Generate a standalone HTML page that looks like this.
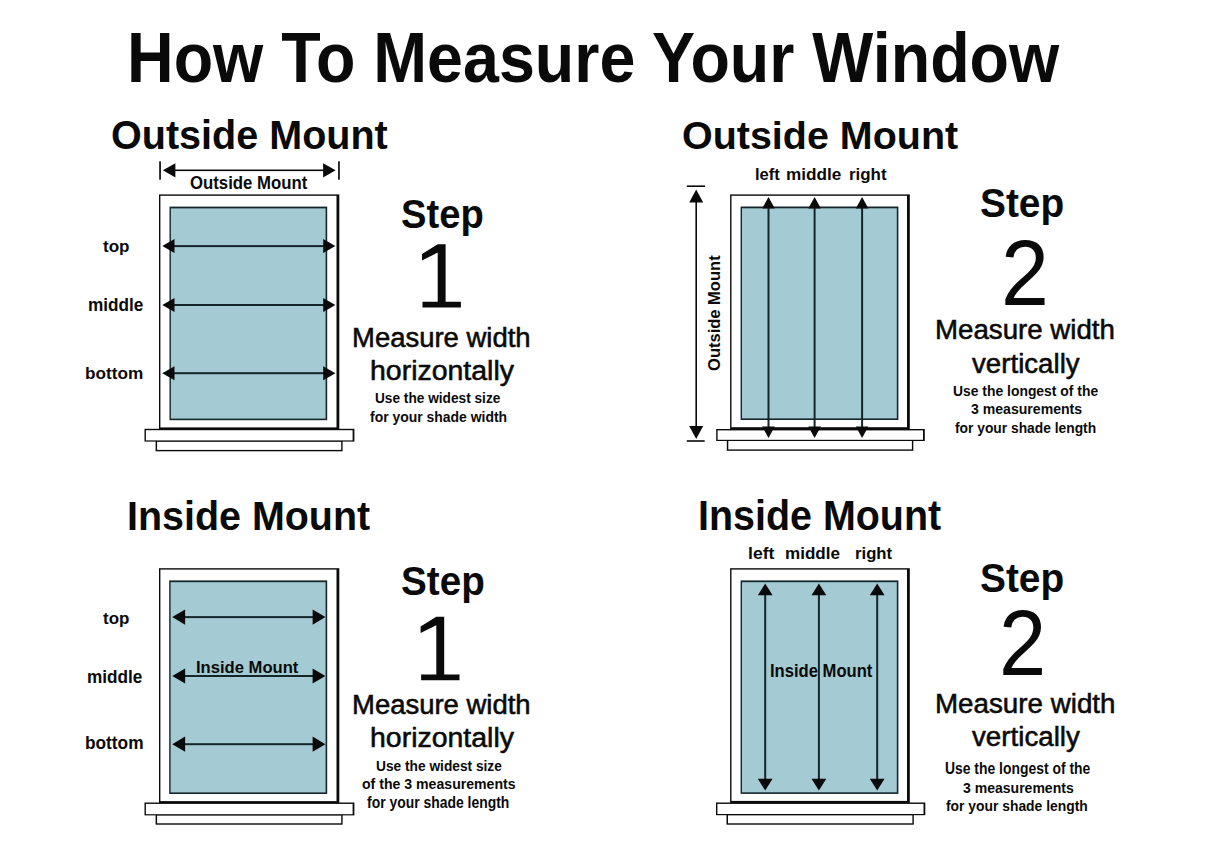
<!DOCTYPE html>
<html><head><meta charset="utf-8"><title>How To Measure Your Window</title>
<style>
html,body{margin:0;padding:0;background:#ffffff;}
body{width:1214px;height:865px;position:relative;overflow:hidden;}
svg{position:absolute;left:0;top:0;}
.t{position:absolute;font-family:"Liberation Sans",sans-serif;line-height:1;white-space:nowrap;color:#0a0a0a;transform-origin:0 0;}
</style></head><body>
<svg width="1214" height="865" viewBox="0 0 1214 865">
<rect x="159" y="194.4" width="180.30" height="235.10" fill="#0a0a0a"/>
<rect x="160.4" y="195.8" width="176.10" height="231.60" fill="#fff"/>
<rect x="169.5" y="206.6" width="157.70" height="213.60" fill="#15262b"/>
<rect x="170.9" y="208.4" width="154.70" height="210.20" fill="#a4cad3"/>
<rect x="155.6" y="440.40000000000003" width="187.00" height="10.90" fill="#0a0a0a"/>
<rect x="157.1" y="441.6" width="184.10" height="8.30" fill="#fff"/>
<rect x="144.5" y="428.8" width="209.90" height="12.80" fill="#0a0a0a"/>
<rect x="145.9" y="430.2" width="206.70" height="10.20" fill="#fff"/>
<rect x="730.1" y="194.4" width="179.70" height="234.90" fill="#0a0a0a"/>
<rect x="731.5" y="195.8" width="175.50" height="231.40" fill="#fff"/>
<rect x="740.6" y="206.5" width="157.80" height="213.50" fill="#15262b"/>
<rect x="742.0" y="208.3" width="154.80" height="210.10" fill="#a4cad3"/>
<rect x="726.8" y="439.8" width="186.50" height="11.00" fill="#0a0a0a"/>
<rect x="728.3" y="441.0" width="183.60" height="8.40" fill="#fff"/>
<rect x="716.2" y="429.0" width="208.60" height="12.00" fill="#0a0a0a"/>
<rect x="717.6" y="430.4" width="205.40" height="9.40" fill="#fff"/>
<rect x="159" y="568.2" width="180.30" height="235.00" fill="#0a0a0a"/>
<rect x="160.4" y="569.6" width="176.10" height="231.50" fill="#fff"/>
<rect x="169.2" y="580.4" width="158.00" height="213.60" fill="#15262b"/>
<rect x="170.6" y="582.1999999999999" width="155.00" height="210.20" fill="#a4cad3"/>
<rect x="155.6" y="814.1999999999999" width="187.00" height="10.50" fill="#0a0a0a"/>
<rect x="157.1" y="815.4" width="184.10" height="7.90" fill="#fff"/>
<rect x="144.5" y="802.5" width="209.90" height="12.90" fill="#0a0a0a"/>
<rect x="145.9" y="803.9" width="206.70" height="10.30" fill="#fff"/>
<rect x="730.1" y="568.2" width="179.70" height="234.80" fill="#0a0a0a"/>
<rect x="731.5" y="569.6" width="175.50" height="231.30" fill="#fff"/>
<rect x="740.6" y="580.4" width="157.80" height="213.50" fill="#15262b"/>
<rect x="742.0" y="582.1999999999999" width="154.80" height="210.10" fill="#a4cad3"/>
<rect x="726.5" y="814.0" width="187.30" height="10.70" fill="#0a0a0a"/>
<rect x="728.0" y="815.2" width="184.40" height="8.10" fill="#fff"/>
<rect x="716.0" y="802.5" width="209.30" height="12.70" fill="#0a0a0a"/>
<rect x="717.4" y="803.9" width="206.10" height="10.10" fill="#fff"/>
<rect x="173.5" y="245.10" width="150.70" height="2.0" fill="#15262b"/>
<path d="M162.3,246.1 L174.5,239.1 L174.5,253.1 Z" fill="#0a0a0a"/>
<path d="M335.4,246.1 L323.2,239.1 L323.2,253.1 Z" fill="#0a0a0a"/>
<rect x="173.5" y="304.00" width="150.70" height="2.0" fill="#15262b"/>
<path d="M162.3,305.0 L174.5,298.0 L174.5,312.0 Z" fill="#0a0a0a"/>
<path d="M335.4,305.0 L323.2,298.0 L323.2,312.0 Z" fill="#0a0a0a"/>
<rect x="173.5" y="372.20" width="150.70" height="2.0" fill="#15262b"/>
<path d="M162.3,373.2 L174.5,366.2 L174.5,380.2 Z" fill="#0a0a0a"/>
<path d="M335.4,373.2 L323.2,366.2 L323.2,380.2 Z" fill="#0a0a0a"/>
<rect x="174.4" y="169.50" width="149.70" height="1.6" fill="#0a0a0a"/>
<path d="M162.9,170.3 L175.4,163.20000000000002 L175.4,177.4 Z" fill="#0a0a0a"/>
<path d="M335.6,170.3 L323.1,163.20000000000002 L323.1,177.4 Z" fill="#0a0a0a"/>
<rect x="159.2" y="161.3" width="1.70" height="18.40" fill="#0a0a0a"/>
<rect x="338.1" y="161.3" width="1.70" height="18.40" fill="#0a0a0a"/>
<rect x="695.40" y="201.5" width="1.6" height="225.60" fill="#0a0a0a"/>
<path d="M696.2,189.6 L689.2,202.5 L703.2,202.5 Z" fill="#0a0a0a"/>
<path d="M696.2,439.0 L689.2,426.1 L703.2,426.1 Z" fill="#0a0a0a"/>
<rect x="686.8" y="185.4" width="18.30" height="1.60" fill="#0a0a0a"/>
<rect x="686.8" y="440.2" width="17.90" height="1.60" fill="#0a0a0a"/>
<rect x="767.50" y="207.5" width="2.0" height="220.00" fill="#15262b"/>
<path d="M768.5,197.0 L762.2,208.5 L774.8,208.5 Z" fill="#0a0a0a"/>
<path d="M768.5,438.0 L762.2,426.5 L774.8,426.5 Z" fill="#0a0a0a"/>
<rect x="813.60" y="207.5" width="2.0" height="220.00" fill="#15262b"/>
<path d="M814.6,197.0 L808.3000000000001,208.5 L820.9,208.5 Z" fill="#0a0a0a"/>
<path d="M814.6,438.0 L808.3000000000001,426.5 L820.9,426.5 Z" fill="#0a0a0a"/>
<rect x="861.10" y="207.5" width="2.0" height="220.00" fill="#15262b"/>
<path d="M862.1,197.0 L855.8000000000001,208.5 L868.4,208.5 Z" fill="#0a0a0a"/>
<path d="M862.1,438.0 L855.8000000000001,426.5 L868.4,426.5 Z" fill="#0a0a0a"/>
<rect x="184.10000000000002" y="616.10" width="129.50" height="2.0" fill="#15262b"/>
<path d="M172.3,617.1 L185.10000000000002,609.5 L185.10000000000002,624.7 Z" fill="#0a0a0a"/>
<path d="M325.4,617.1 L312.59999999999997,609.5 L312.59999999999997,624.7 Z" fill="#0a0a0a"/>
<rect x="184.10000000000002" y="675.00" width="129.50" height="2.0" fill="#15262b"/>
<path d="M172.3,676.0 L185.10000000000002,668.4 L185.10000000000002,683.6 Z" fill="#0a0a0a"/>
<path d="M325.4,676.0 L312.59999999999997,668.4 L312.59999999999997,683.6 Z" fill="#0a0a0a"/>
<rect x="184.10000000000002" y="743.20" width="129.50" height="2.0" fill="#15262b"/>
<path d="M172.3,744.2 L185.10000000000002,736.6 L185.10000000000002,751.8000000000001 Z" fill="#0a0a0a"/>
<path d="M325.4,744.2 L312.59999999999997,736.6 L312.59999999999997,751.8000000000001 Z" fill="#0a0a0a"/>
<rect x="764.20" y="594.3" width="2.0" height="185.50" fill="#15262b"/>
<path d="M765.2,583.5 L757.8000000000001,595.3 L772.6,595.3 Z" fill="#0a0a0a"/>
<path d="M765.2,790.6 L757.8000000000001,778.8000000000001 L772.6,778.8000000000001 Z" fill="#0a0a0a"/>
<rect x="817.90" y="594.3" width="2.0" height="185.50" fill="#15262b"/>
<path d="M818.9,583.5 L811.5,595.3 L826.3,595.3 Z" fill="#0a0a0a"/>
<path d="M818.9,790.6 L811.5,778.8000000000001 L826.3,778.8000000000001 Z" fill="#0a0a0a"/>
<rect x="876.20" y="594.3" width="2.0" height="185.50" fill="#15262b"/>
<path d="M877.2,583.5 L869.8000000000001,595.3 L884.6,595.3 Z" fill="#0a0a0a"/>
<path d="M877.2,790.6 L869.8000000000001,778.8000000000001 L884.6,778.8000000000001 Z" fill="#0a0a0a"/>
<path d="M437.70,244.20 L445.60,244.20 L445.60,301.80 L460.90,301.80 L460.90,307.60 L422.50,307.60 L422.50,301.80 L437.70,301.80 L437.70,252.60 L422.00,260.40 L422.00,254.00 Z" fill="#0a0a0a"/>
<path d="M436.30,616.80 L444.20,616.80 L444.20,674.40 L459.50,674.40 L459.50,680.20 L421.10,680.20 L421.10,674.40 L436.30,674.40 L436.30,625.20 L420.60,633.00 L420.60,626.60 Z" fill="#0a0a0a"/>
</svg>
<div class="t" style="left:127.48px;top:23.31px;font-size:70.58px;font-weight:bold;transform:scaleX(0.9150);">How To Measure Your Window</div>
<div class="t" style="left:110.62px;top:116.12px;font-size:39.86px;font-weight:bold;transform:scaleX(0.9921);">Outside Mount</div>
<div class="t" style="left:681.82px;top:116.17px;font-size:39.57px;font-weight:bold;transform:scaleX(0.9972);">Outside Mount</div>
<div class="t" style="left:127.44px;top:496.38px;font-size:40.72px;font-weight:bold;transform:scaleX(0.9685);">Inside Mount</div>
<div class="t" style="left:698.24px;top:494.64px;font-size:41.59px;font-weight:bold;transform:scaleX(0.9482);">Inside Mount</div>
<div class="t" style="left:190.33px;top:175.02px;font-size:17.97px;font-weight:bold;transform:scaleX(0.9336);">Outside Mount</div>
<div class="t" style="left:102.83px;top:238.31px;font-size:17.17px;font-weight:bold;transform:scaleX(0.9941);">top</div>
<div class="t" style="left:87.80px;top:296.31px;font-size:18.22px;font-weight:bold;transform:scaleX(0.9431);">middle</div>
<div class="t" style="left:85.40px;top:364.53px;font-size:17.26px;font-weight:bold;transform:scaleX(0.9949);">bottom</div>
<div class="t" style="left:102.80px;top:610.63px;font-size:16.79px;font-weight:bold;transform:scaleX(1.0109);">top</div>
<div class="t" style="left:87.20px;top:668.23px;font-size:18.08px;font-weight:bold;transform:scaleX(0.9501);">middle</div>
<div class="t" style="left:85.39px;top:734.88px;font-size:17.67px;font-weight:bold;transform:scaleX(0.9787);">bottom</div>
<div class="t" style="left:754.85px;top:165.96px;font-size:16.99px;font-weight:bold;transform:scaleX(0.9712);">left</div>
<div class="t" style="left:785.80px;top:165.96px;font-size:16.99px;font-weight:bold;transform:scaleX(1.0115);">middle</div>
<div class="t" style="left:849.01px;top:165.96px;font-size:16.99px;font-weight:bold;transform:scaleX(0.9961);">right</div>
<div class="t" style="left:747.77px;top:544.55px;font-size:17.12px;font-weight:bold;transform:scaleX(1.0282);">left</div>
<div class="t" style="left:784.80px;top:544.55px;font-size:17.12px;font-weight:bold;transform:scaleX(0.9959);">middle</div>
<div class="t" style="left:854.83px;top:544.55px;font-size:17.12px;font-weight:bold;transform:scaleX(0.9773);">right</div>
<div class="t" style="left:196.43px;top:659.26px;font-size:17.10px;font-weight:bold;transform:scaleX(0.9714);">Inside Mount</div>
<div class="t" style="left:769.84px;top:662.99px;font-size:17.54px;font-weight:bold;transform:scaleX(0.9473);">Inside Mount</div>
<div class="t" style="left:401.05px;top:193.37px;font-size:41.45px;font-weight:bold;transform:scaleX(0.9212);">Step</div>
<div class="t" style="left:352.40px;top:324.71px;font-size:26.81px;font-weight:normal;transform:scaleX(1.0251);-webkit-text-stroke:0.55px #0a0a0a;">Measure width</div>
<div class="t" style="left:370.21px;top:357.52px;font-size:26.81px;font-weight:normal;transform:scaleX(1.0623);-webkit-text-stroke:0.55px #0a0a0a;">horizontally</div>
<div class="t" style="left:374.98px;top:390.34px;font-size:15.48px;font-weight:bold;transform:scaleX(0.8837);">Use the widest size</div>
<div class="t" style="left:369.52px;top:410.21px;font-size:14.93px;font-weight:bold;transform:scaleX(0.9342);">for your shade width</div>
<div class="t" style="left:980.43px;top:183.09px;font-size:41.30px;font-weight:bold;transform:scaleX(0.9407);">Step</div>
<div class="t" style="left:1000.89px;top:228.08px;font-size:92.14px;font-weight:normal;transform:scaleX(0.9345);">2</div>
<div class="t" style="left:934.98px;top:316.51px;font-size:26.81px;font-weight:normal;transform:scaleX(1.0321);-webkit-text-stroke:0.55px #0a0a0a;">Measure width</div>
<div class="t" style="left:972.32px;top:350.92px;font-size:26.81px;font-weight:normal;transform:scaleX(1.0327);-webkit-text-stroke:0.55px #0a0a0a;">vertically</div>
<div class="t" style="left:952.97px;top:382.68px;font-size:15.21px;font-weight:bold;transform:scaleX(0.9138);">Use the longest of the</div>
<div class="t" style="left:970.51px;top:402.37px;font-size:14.86px;font-weight:bold;transform:scaleX(0.9473);">3 measurements</div>
<div class="t" style="left:955.12px;top:419.78px;font-size:15.21px;font-weight:bold;transform:scaleX(0.9081);">for your shade length</div>
<div class="t" style="left:401.04px;top:560.89px;font-size:41.30px;font-weight:bold;transform:scaleX(0.9360);">Step</div>
<div class="t" style="left:352.40px;top:692.21px;font-size:26.81px;font-weight:normal;transform:scaleX(1.0251);-webkit-text-stroke:0.55px #0a0a0a;">Measure width</div>
<div class="t" style="left:370.21px;top:725.42px;font-size:26.81px;font-weight:normal;transform:scaleX(1.0623);-webkit-text-stroke:0.55px #0a0a0a;">horizontally</div>
<div class="t" style="left:376.18px;top:759.49px;font-size:14.25px;font-weight:bold;transform:scaleX(0.9632);">Use the widest size</div>
<div class="t" style="left:361.83px;top:776.36px;font-size:15.34px;font-weight:bold;transform:scaleX(0.9201);">of the 3 measurements</div>
<div class="t" style="left:367.12px;top:794.71px;font-size:15.75px;font-weight:bold;transform:scaleX(0.8839);">for your shade length</div>
<div class="t" style="left:980.43px;top:558.39px;font-size:41.30px;font-weight:bold;transform:scaleX(0.9407);">Step</div>
<div class="t" style="left:998.76px;top:597.40px;font-size:92.00px;font-weight:normal;transform:scaleX(0.9216);">2</div>
<div class="t" style="left:934.98px;top:691.01px;font-size:26.81px;font-weight:normal;transform:scaleX(1.0356);-webkit-text-stroke:0.55px #0a0a0a;">Measure width</div>
<div class="t" style="left:971.72px;top:723.52px;font-size:26.81px;font-weight:normal;transform:scaleX(1.0346);-webkit-text-stroke:0.55px #0a0a0a;">vertically</div>
<div class="t" style="left:944.76px;top:761.13px;font-size:15.62px;font-weight:bold;transform:scaleX(0.8909);">Use the longest of the</div>
<div class="t" style="left:962.52px;top:781.17px;font-size:14.86px;font-weight:bold;transform:scaleX(0.9439);">3 measurements</div>
<div class="t" style="left:946.12px;top:798.28px;font-size:15.21px;font-weight:bold;transform:scaleX(0.9119);">for your shade length</div>
<div class="t" style="left:0;top:0;font-size:16.38px;font-weight:bold;transform-origin:0 0;transform:translate(705.68px,370.96px) rotate(-90deg) scaleX(1.0095);">Outside Mount</div>
</body></html>
